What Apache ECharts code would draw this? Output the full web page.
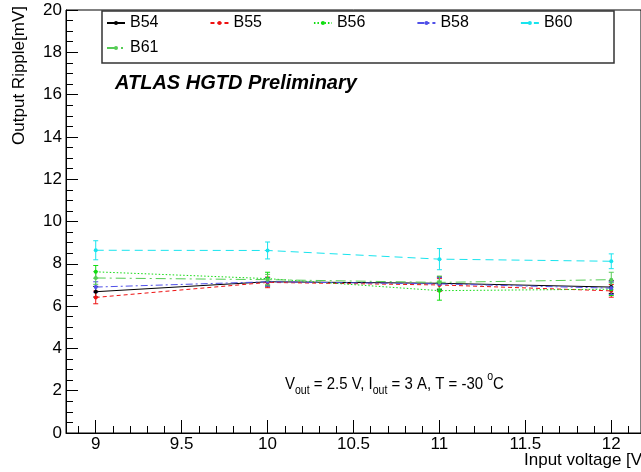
<!DOCTYPE html>
<html>
<head>
<meta charset="utf-8">
<script src="https://cdn.jsdelivr.net/npm/echarts@6/dist/echarts.min.js"></script>
<style>html,body{margin:0;padding:0;background:#fff;}#c{width:641px;height:472px;}</style>
</head>
<body>
<div id="c"></div>
<script>
// ---- data ----
const voltages = [9, 10, 11, 12];
const seriesNames = ['B54', 'B55', 'B56', 'B58', 'B60', 'B61'];
const b54 = [6.68, 7.15, 7.08, 6.90];
const b54Err = [0.25, 0.2, 0.3, 0.3];
const b55 = [6.41, 7.12, 7.00, 6.72];
const b55Err = [0.3, 0.25, 0.3, 0.3];
const b56 = [7.62, 7.30, 6.73, 6.80];
const b56Err = [0.3, 0.3, 0.45, 0.3];
const b58 = [6.90, 7.15, 7.05, 6.85];
const b58Err = [0.25, 0.2, 0.3, 0.3];
const b60 = [8.64, 8.63, 8.22, 8.12];
const b60Err = [0.45, 0.4, 0.5, 0.35];
const b61 = [7.33, 7.25, 7.12, 7.25];
const b61Err = [0.3, 0.25, 0.3, 0.35];
const xMajorTicks = [9, 9.5, 10, 10.5, 11, 11.5, 12];
const xMinorTicks = [8.9, 9.1, 9.2, 9.3, 9.4, 9.6, 9.7, 9.8, 9.9, 10.1, 10.2, 10.3, 10.4,
  10.6, 10.7, 10.8, 10.9, 11.1, 11.2, 11.3, 11.4, 11.6, 11.7, 11.8, 11.9, 12.1];

const values = [b54, b55, b56, b58, b60, b61];
const errors = [b54Err, b55Err, b56Err, b58Err, b60Err, b61Err];
const colors = ['#000000', '#ee1111', '#11dd11', '#5050e8', '#18e4ee', '#55cc55'];
const dashes = ['solid', [4, 3], [1.5, 2], [7, 3, 2, 3], [8, 5], [10, 4, 2, 4]];

const FONT = 'Liberation Sans, Arial, sans-serif';
const chart = echarts.init(document.getElementById('c'), null, {renderer: 'canvas'});

const series = [];
seriesNames.forEach((name, i) => {
  const color = colors[i];
  series.push({
    name: name + ' err',
    type: 'custom',
    xAxisIndex: 0, yAxisIndex: 0,
    data: voltages.map((v, k) => [v, values[i][k], errors[i][k]]),
    z: 2,
    silent: true,
    renderItem: function (params, api) {
      const x = api.value(0), y = api.value(1), e = api.value(2);
      const t = api.coord([x, y + e]);
      const b = api.coord([x, y - e]);
      const cap = 2.5;
      const st = {stroke: color, lineWidth: 1};
      return {type: 'group', children: [
        {type: 'line', shape: {x1: t[0], y1: t[1], x2: b[0], y2: b[1]}, style: st},
        {type: 'line', shape: {x1: t[0] - cap, y1: t[1], x2: t[0] + cap, y2: t[1]}, style: st},
        {type: 'line', shape: {x1: b[0] - cap, y1: b[1], x2: b[0] + cap, y2: b[1]}, style: st}
      ]};
    }
  });
  series.push({
    name: name,
    type: 'line',
    xAxisIndex: 0, yAxisIndex: 0,
    data: voltages.map((v, k) => [v, values[i][k]]),
    symbol: 'circle',
    symbolSize: 4,
    z: 3,
    color: color,
    itemStyle: {color: color},
    lineStyle: {color: color, width: 1, type: dashes[i]},
    animation: false
  });
});

const legendBase = {
  orient: 'horizontal', left: 106,
  itemGap: 51, itemWidth: 18, itemHeight: 5,
  textStyle: {fontSize: 16, color: '#000', fontFamily: FONT},
  padding: 0
};

const option = {
  animation: false,
  backgroundColor: '#ffffff',
  textStyle: {fontFamily: FONT},
  grid: {left: 66, top: 10, width: 580, height: 423, show: true, borderColor: '#000', borderWidth: 1, backgroundColor: 'transparent'},
  legend: [
    Object.assign({}, legendBase, {data: seriesNames.slice(0, 5), top: 15}),
    Object.assign({}, legendBase, {data: seriesNames.slice(5), top: 40})
  ],
  xAxis: [
    {
      type: 'value', min: 8.827, max: 12.173, gridIndex: 0,
      axisLine: {show: true, lineStyle: {color: '#000', width: 1}},
      axisTick: {show: true, inside: true, length: 13, customValues: xMajorTicks, lineStyle: {color: '#000'}},
      axisLabel: {show: true, customValues: xMajorTicks, fontSize: 17, color: '#000', fontFamily: FONT, margin: 3,
        formatter: v => String(v)},
      splitLine: {show: false}
    },
    {
      type: 'value', min: 8.827, max: 12.173, gridIndex: 0, position: 'bottom',
      axisLine: {show: false},
      axisTick: {show: true, inside: true, length: 7, customValues: xMinorTicks, lineStyle: {color: '#000'}},
      axisLabel: {show: false},
      splitLine: {show: false}
    }
  ],
  yAxis: {
    type: 'value', min: 0, max: 20, interval: 2,
    axisLine: {show: true, lineStyle: {color: '#000', width: 1}},
    axisTick: {show: true, inside: true, length: 12, lineStyle: {color: '#000'}},
    minorTick: {show: true, splitNumber: 4, length: 7, lineStyle: {color: '#000'}},
    axisLabel: {fontSize: 17, color: '#000', fontFamily: FONT, margin: 4},
    splitLine: {show: false}
  },
  graphic: [
    {type: 'rect', shape: {x: 102, y: 11, width: 512, height: 52},
      style: {fill: 'rgba(0,0,0,0)', stroke: '#333', lineWidth: 1.5}, z: 10},
    {type: 'text', x: 115, y: 83,
      style: {text: 'ATLAS HGTD Preliminary', font: 'italic bold 20px ' + FONT, fill: '#000', textVerticalAlign: 'middle'}, z: 10},
    {type: 'text', x: 19, y: 6, rotation: Math.PI / 2,
      style: {text: 'Output Ripple[mV]', font: '17px ' + FONT, fill: '#000', textAlign: 'right', textVerticalAlign: 'middle'}, z: 10},
    {type: 'text', x: 524, y: 460,
      style: {text: 'Input voltage [V]', font: '17px ' + FONT, fill: '#000', textVerticalAlign: 'middle'}, z: 10},
    {type: 'text', x: 285, y: 384, scaleX: 0.88, z: 10,
      style: {
        text: 'V{sub|out} = 2.5 V, I{sub|out} = 3 A, T = -30 {sup|o}C',
        fontSize: 17, fontFamily: FONT, fill: '#000', lineHeight: 26, textVerticalAlign: 'middle',
        rich: {
          sub: {fontSize: 12, fontFamily: FONT, fill: '#000', verticalAlign: 'bottom', lineHeight: 12},
          sup: {fontSize: 12, fontFamily: FONT, fill: '#000', verticalAlign: 'top', lineHeight: 12}
        }
      }}
  ],
  series: series
};
chart.setOption(option);
</script>
</body>
</html>
